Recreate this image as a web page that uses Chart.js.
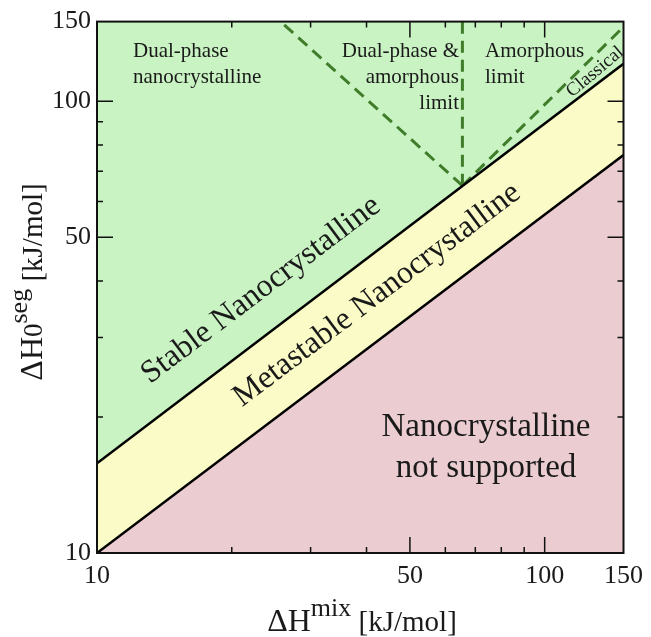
<!DOCTYPE html>
<html><head><meta charset="utf-8">
<script src="https://cdn.jsdelivr.net/npm/chart.js@4.4.0/dist/chart.umd.min.js"></script>
<style>html,body{margin:0;padding:0;background:#fff}#wrap{width:651px;height:637px}</style>
</head><body><div id="wrap"><canvas id="c" width="651" height="637"></canvas></div>
<script>
// ---- data ----
const xRange = [10, 150];
const yRange = [10, 150];
const tickValues = [10, 20, 30, 40, 50, 60, 70, 80, 90, 100, 150];
const majorTicks = [10, 50, 100, 150];
const lowerBoundary = [{x: 10, y: 10}, {x: 150, y: 76}];          // metastable / not supported
const upperBoundary = [{x: 10, y: 15.8}, {x: 150, y: 121}];       // stable / metastable
const amorphousLimit = [{x: 65.5, y: 65}, {x: 65.5, y: 150}];     // vertical dashed
const dualPhaseLimit = [{x: 65.5, y: 65}, {x: 25.7, y: 150}];     // left dashed
const classicalLimit = [{x: 65.5, y: 65}, {x: 150, y: 146}];      // right dashed

const SERIF = '"Liberation Serif", "DejaVu Serif", serif';
const GREEN = '#c9f3c2', YELLOW = '#fbfbc7', PINK = '#ebcdd1', DASH = '#3f7d2a';

const bgPlugin = {
  id: 'bg',
  beforeDatasetsDraw(chart) {
    const {ctx, chartArea: a} = chart;
    ctx.save(); ctx.fillStyle = GREEN;
    ctx.fillRect(a.left, a.top, a.right - a.left, a.bottom - a.top);
    ctx.restore();
  }
};

function tickMarks(chart) {
  const {ctx, chartArea: a} = chart;
  const xs = chart.scales.x, ys = chart.scales.y;
  ctx.save(); ctx.strokeStyle = '#111'; ctx.lineWidth = 1.5;
  tickValues.forEach(v => {
    const len = majorTicks.includes(v) ? 16 : 6;
    if (v > xRange[0] && v < xRange[1]) {
      const px = xs.getPixelForValue(v);
      ctx.beginPath();
      ctx.moveTo(px, a.bottom); ctx.lineTo(px, a.bottom - len);
      ctx.moveTo(px, a.top); ctx.lineTo(px, a.top + len);
      ctx.stroke();
    }
    if (v > yRange[0] && v < yRange[1]) {
      const py = ys.getPixelForValue(v);
      ctx.beginPath();
      ctx.moveTo(a.left, py); ctx.lineTo(a.left + len, py);
      ctx.moveTo(a.right, py); ctx.lineTo(a.right - len, py);
      ctx.stroke();
    }
  });
  ctx.lineWidth = 2;
  ctx.strokeRect(a.left, a.top, a.right - a.left, a.bottom - a.top);
  ctx.restore();
}

function rotatedText(ctx, text, x, y, angDeg, font) {
  ctx.save(); ctx.translate(x, y); ctx.rotate(angDeg * Math.PI / 180);
  ctx.font = font; ctx.textAlign = 'center'; ctx.textBaseline = 'middle';
  ctx.fillText(text, 0, 0); ctx.restore();
}

function richRun(ctx, parts, x, y, align) {
  // parts: [text, size, dy]
  let total = 0;
  parts.forEach(p => { ctx.font = p[1] + 'px ' + SERIF; total += ctx.measureText(p[0]).width; });
  let cx = align === 'center' ? x - total / 2 : x;
  ctx.textAlign = 'left'; ctx.textBaseline = 'alphabetic';
  parts.forEach(p => {
    ctx.font = p[1] + 'px ' + SERIF;
    ctx.fillText(p[0], cx, y + p[2]);
    cx += ctx.measureText(p[0]).width;
  });
}

const labelPlugin = {
  id: 'labels',
  afterDraw(chart) {
    const {ctx} = chart;
    tickMarks(chart);
    ctx.save(); ctx.fillStyle = '#1a1a1a';
    // top region labels
    ctx.font = '21px ' + SERIF; ctx.textBaseline = 'middle';
    ctx.textAlign = 'left';
    ctx.fillText('Dual-phase', 133, 51);
    ctx.fillText('nanocrystalline', 133, 77);
    ctx.textAlign = 'right';
    ctx.fillText('Dual-phase &', 459, 51);
    ctx.fillText('amorphous', 459, 77);
    ctx.fillText('limit', 459, 103);
    ctx.textAlign = 'left';
    ctx.fillText('Amorphous', 485, 51);
    ctx.fillText('limit', 485, 77);
    rotatedText(ctx, 'Classical', 595, 72, -40, '19px ' + SERIF);
    // diagonal region labels
    rotatedText(ctx, 'Stable Nanocrystalline', 261, 290, -37, '32px ' + SERIF);
    rotatedText(ctx, 'Metastable Nanocrystalline', 377, 295, -37, '32px ' + SERIF);
    ctx.font = '33px ' + SERIF; ctx.textAlign = 'center'; ctx.textBaseline = 'middle';
    ctx.fillText('Nanocrystalline', 486, 427);
    ctx.fillText('not supported', 486, 468);
    // axis titles
    richRun(ctx, [['ΔH', 32, 0], ['mix', 26, -15], [' [kJ/mol]', 29, 0]], 362, 631, 'center');
    ctx.save(); ctx.translate(42, 282); ctx.rotate(-Math.PI / 2);
    richRun(ctx, [['ΔH', 32, 0], ['0', 27, 0], ['seg', 26, -15], [' [kJ/mol]', 29, 0]], 0, 0, 'center');
    ctx.restore();
    ctx.restore();
  }
};

const tickCb = v => majorTicks.includes(v) ? String(v) : '';

new Chart(document.getElementById('c'), {
  type: 'line',
  data: {
    datasets: [
      {data: lowerBoundary, borderColor: '#000', borderWidth: 2.5, fill: 'start', backgroundColor: PINK, pointRadius: 0},
      {data: upperBoundary, borderColor: '#000', borderWidth: 2.5, fill: '-1', backgroundColor: YELLOW, pointRadius: 0},
      {data: amorphousLimit, borderColor: DASH, borderWidth: 3, borderDash: [12, 7], fill: false, pointRadius: 0},
      {data: dualPhaseLimit, borderColor: DASH, borderWidth: 3, borderDash: [12, 7], fill: false, pointRadius: 0},
      {data: classicalLimit, borderColor: DASH, borderWidth: 3, borderDash: [12, 7], fill: false, pointRadius: 0}
    ]
  },
  options: {
    responsive: false, animation: false, devicePixelRatio: 1,
    layout: {padding: {left: 0, top: 20, right: 21, bottom: 0}},
    plugins: {legend: {display: false}, tooltip: {enabled: false}},
    elements: {line: {tension: 0}},
    scales: {
      x: {
        type: 'logarithmic', min: xRange[0], max: xRange[1],
        grid: {display: false, drawTicks: false}, border: {display: false},
        afterBuildTicks: s => { s.ticks = tickValues.map(v => ({value: v})); },
        afterFit: s => { s.height = 84; },
        ticks: {autoSkip: false, maxRotation: 0, padding: 8, color: '#1a1a1a', font: {family: SERIF, size: 26}, callback: tickCb}
      },
      y: {
        type: 'logarithmic', min: yRange[0], max: yRange[1],
        grid: {display: false, drawTicks: false}, border: {display: false},
        afterBuildTicks: s => { s.ticks = tickValues.map(v => ({value: v})); },
        afterFit: s => { s.width = 97; },
        ticks: {autoSkip: false, padding: 6, color: '#1a1a1a', font: {family: SERIF, size: 26}, callback: tickCb}
      }
    }
  },
  plugins: [bgPlugin, labelPlugin]
});
</script></body></html>
